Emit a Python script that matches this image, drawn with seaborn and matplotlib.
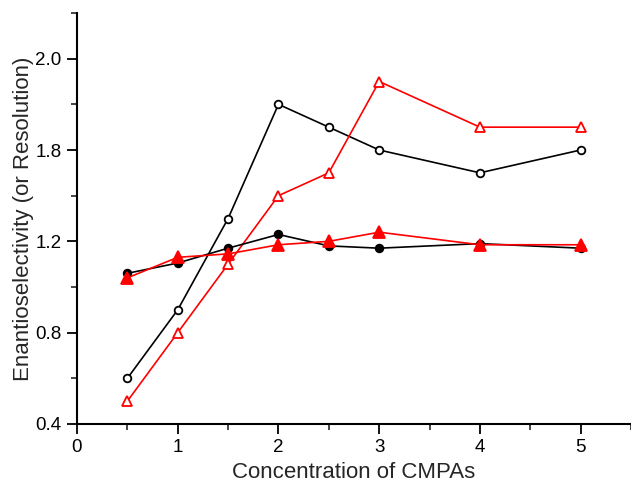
import matplotlib
matplotlib.use("Agg")
import matplotlib.pyplot as plt
import seaborn as sns
import pandas as pd
from matplotlib.ticker import MultipleLocator, FixedLocator, FixedFormatter

conc = [0.5, 1, 1.5, 2, 2.5, 3, 4, 5]
open_circle = [0.60, 0.90, 1.30, 1.80, 1.70, 1.60, 1.50, 1.60]
open_triangle = [0.50, 0.80, 1.10, 1.40, 1.50, 1.90, 1.70, 1.70]
filled_circle = [1.06, 1.105, 1.17, 1.23, 1.18, 1.17, 1.19, 1.17]
filled_triangle = [1.04, 1.13, 1.145, 1.185, 1.20, 1.24, 1.185, 1.185]

x_ticks = [0, 1, 2, 3, 4, 5]
y_tick_pos = [0.4, 0.8, 1.2, 1.6, 2.0]
y_tick_labels = ["0.4", "0.8", "1.2", "1.8", "2.0"]

sns.set_style("ticks")
plt.rcParams["font.family"] = ["Liberation Sans", "DejaVu Sans"]

fig = plt.figure(figsize=(6.31, 4.84), dpi=100)
ax = fig.add_axes([77 / 631, 1 - 424 / 484, 1 - 77 / 631, (424 - 13) / 484])

series = [
    (open_circle, "black", "o", "white", 5.5),
    (open_triangle, "red", "^", "white", 7.5),
    (filled_circle, "black", "o", "black", 5.5),
    (filled_triangle, "red", "^", "red", 8),
]
for vals, col, mk, fc, ms in series:
    df = pd.DataFrame({"x": conc, "y": vals})
    sns.lineplot(data=df, x="x", y="y", ax=ax, color=col, lw=1.2,
                 marker=mk, markersize=ms, markerfacecolor=fc,
                 markeredgecolor=col, markeredgewidth=1.3)

ax.set_xlim(0, 5.5)
ax.set_ylim(0.4, 2.2)
ax.xaxis.set_major_locator(FixedLocator(x_ticks))
ax.xaxis.set_minor_locator(MultipleLocator(0.5))
ax.yaxis.set_major_locator(FixedLocator(y_tick_pos))
ax.yaxis.set_major_formatter(FixedFormatter(y_tick_labels))
ax.yaxis.set_minor_locator(MultipleLocator(0.2))

for s in ["top", "right"]:
    ax.spines[s].set_visible(False)
for s in ["left", "bottom"]:
    ax.spines[s].set_linewidth(1.5)
    ax.spines[s].set_color("black")

ax.tick_params(which="major", direction="out", length=7, width=1.3,
               labelsize=13.5, colors="black", pad=4)
ax.tick_params(which="minor", direction="out", length=4.5, width=1.2)

ax.set_xlabel("Concentration of CMPAs", fontsize=16, labelpad=4)
ax.set_ylabel("Enantioselectivity (or Resolution)", fontsize=16, labelpad=1)

fig.savefig("out.png", dpi=100)
